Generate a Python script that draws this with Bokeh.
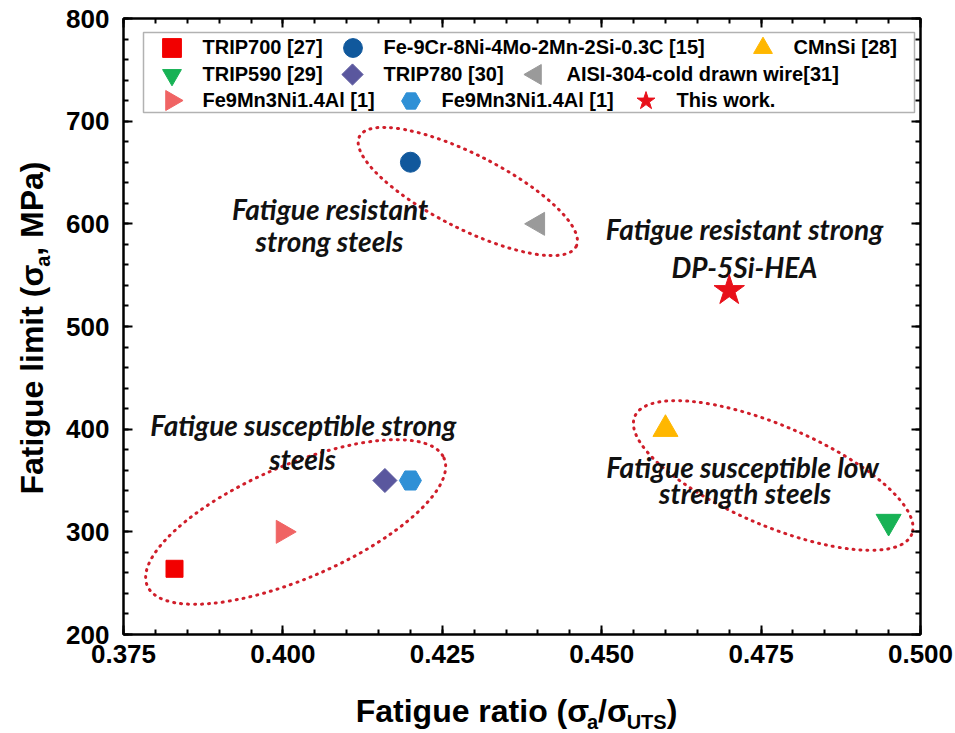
import math
from bokeh.plotting import figure
from bokeh.layouts import row, column
from bokeh.models import (Range1d, LinearAxis, SingleIntervalTicker, PrintfTickFormatter,
                          Legend, LegendItem, BoxAnnotation)
from bokeh.core.properties import value
from bokeh.embed import file_html
from bokeh.resources import INLINE

# ---------------- data ----------------
series_names = ["TRIP700 [27]", "Fe-9Cr-8Ni-4Mo-2Mn-2Si-0.3C [15]", "CMnSi [28]",
                "TRIP590 [29]", "TRIP780 [30]", "AISI-304-cold drawn wire[31]",
                "Fe9Mn3Ni1.4Al [1]", "Fe9Mn3Ni1.4Al [1]", "This work."]
fatigue_ratio = [0.383, 0.420, 0.460, 0.495, 0.416, 0.440, 0.400, 0.420, 0.470]
fatigue_limit = [264, 660, 400, 310, 350, 600, 300, 350, 535]

x_range_vals = [0.375, 0.500]
y_range_vals = [200, 800]

# group annotations (dotted ellipses): centre in data, size in screen px, angle in degrees
group_x = [0.4020, 0.4290, 0.4769]
group_y = [309.6, 631.5, 354.9]
group_w_px = [323, 243, 301]
group_h_px = [113, 74, 100]
group_angle_deg = [23.3, -26.9, -23.1]

note_texts = ["Fatigue resistant", "strong steels",
              "Fatigue resistant strong", "DP-5Si-HEA",
              "Fatigue susceptible strong", "steels",
              "Fatigue susceptible low", "strength steels"]
note_x = [0.4074, 0.4073, 0.4724, 0.4724, 0.4032, 0.4031, 0.4721, 0.4725]
note_y = [614, 583, 594.5, 558.4, 403.6, 371.4, 363.6, 338.3]

# ---------------- styles ----------------
markers = ["square", "circle", "triangle", "inverted_triangle", "square",
           "triangle", "triangle", "hex", "star"]
marker_angles = [0, 0, 0, 0, math.pi / 4, math.pi / 2, -math.pi / 2, 0, 0]
colors = ["#f20000", "#10589c", "#ffb700", "#17b255", "#5a579e",
          "#9a9a9a", "#f06464", "#2f90d6", "#e8101a"]
sizes = [17, 20, 25, 25, 17, 23, 23, 22, 32]
legend_sizes = [18, 19, 20, 20, 15, 20, 20, 20, 24]

# legend layout (canvas px): glyph centre x per item, row centre y
legend_cx = [171, 352, 762, 171, 352, 535, 171, 410, 645]
legend_cy = [47, 47, 47, 74, 74, 74, 100, 100, 100]

W, H = 955, 733
YT_W = 60            # width of the strip holding the y title
XT_TOP = 680         # top of the strip holding the x title
FL, FR, FT, FB = 123, 920, 18, 634

p = figure(width=W - YT_W, height=XT_TOP, output_backend="svg", toolbar_location=None,
           x_range=Range1d(*x_range_vals), y_range=Range1d(*y_range_vals),
           min_border_left=FL - YT_W, min_border_right=W - FR, min_border_top=FT,
           min_border_bottom=XT_TOP - FB)
p.xgrid.visible = False
p.ygrid.visible = False
p.outline_line_color = "black"
p.outline_line_width = 2
p.background_fill_color = "white"
p.border_fill_color = "white"


def px_x(px):
    return x_range_vals[0] + (px - FL) / (FR - FL) * (x_range_vals[1] - x_range_vals[0])


def px_y(py):
    return y_range_vals[1] - (py - FT) / (FB - FT) * (y_range_vals[1] - y_range_vals[0])


def style_axis(ax, show_labels):
    ax.axis_line_width = 2
    ax.major_tick_in = 9
    ax.major_tick_out = 0
    ax.minor_tick_in = 5
    ax.minor_tick_out = 0
    ax.major_tick_line_width = 2
    ax.minor_tick_line_width = 2
    if show_labels:
        ax.major_label_text_font = "Liberation Sans"
        ax.major_label_text_font_style = "bold"
        ax.major_label_text_font_size = "26px"
        ax.major_label_text_color = "black"
    else:
        ax.major_label_text_font_size = "6px"
        ax.major_label_text_color = None
        ax.major_label_standoff = 0


p.xaxis.ticker = SingleIntervalTicker(interval=0.025, num_minor_ticks=5)
p.yaxis.ticker = SingleIntervalTicker(interval=100, num_minor_ticks=5)
p.xaxis.formatter = PrintfTickFormatter(format="%.3f")
style_axis(p.xaxis[0], True)
style_axis(p.yaxis[0], True)
p.xaxis.major_label_standoff = 10
p.yaxis.major_label_standoff = 14

top_ax = LinearAxis(ticker=SingleIntervalTicker(interval=0.025, num_minor_ticks=5))
right_ax = LinearAxis(ticker=SingleIntervalTicker(interval=100, num_minor_ticks=5))
style_axis(top_ax, False)
style_axis(right_ax, False)
p.add_layout(top_ax, "above")
p.add_layout(right_ax, "right")

# dotted ellipses
p.ellipse(x=group_x, y=group_y, width=group_w_px, height=group_h_px,
          angle=[math.radians(a) for a in group_angle_deg],
          width_units="screen", height_units="screen",
          fill_color=None, line_color="#d01e2a", line_width=3,
          line_dash="1 6", line_cap="round")

# notes
p.text(x=note_x, y=note_y, text=note_texts, text_font=value("Lato"),
       text_font_style="bold italic", text_font_size="28px", text_color="#111111",
       text_align="center", text_baseline="middle")

# scatter points
renderers = []
for i in range(len(series_names)):
    r = p.scatter(x=[fatigue_ratio[i]], y=[fatigue_limit[i]], marker=markers[i],
                  angle=marker_angles[i], size=sizes[i], fill_color=colors[i],
                  line_color=colors[i])
    renderers.append(r)

# legend frame
box = BoxAnnotation(left=px_x(143), right=px_x(914), top=px_y(32), bottom=px_y(112),
                    fill_color="white", fill_alpha=1, line_color="black", line_width=1.5)
p.add_layout(box)

GH = 47
for i in range(len(series_names)):
    if marker_angles[i] != 0:
        # legend glyphs are never rotated by Bokeh: invisible proxy + rotated marker drawn here
        proxy = p.scatter(x=[fatigue_ratio[i]], y=[fatigue_limit[i]], marker=markers[i],
                          size=1, fill_alpha=0, line_alpha=0)
        p.scatter(x=[px_x(legend_cx[i])], y=[px_y(legend_cy[i])], marker=markers[i],
                  angle=marker_angles[i], size=legend_sizes[i], fill_color=colors[i],
                  line_color=colors[i], level="overlay")
        item_r = proxy
    else:
        item_r = renderers[i]
    leg = Legend(items=[LegendItem(label=series_names[i], renderers=[item_r])],
                 orientation="horizontal",
                 location=(legend_cx[i] - GH / 2 - FL, (FB - legend_cy[i]) - GH / 2),
                 glyph_width=GH, glyph_height=GH, label_standoff=8, spacing=0,
                 padding=0, margin=0, border_line_color=None, background_fill_alpha=0,
                 label_text_font="Liberation Sans", label_text_font_style="bold",
                 label_text_font_size="20px", label_height=20, label_text_color="black")
    p.add_layout(leg)

# ---------------- axis titles (pieces, for subscripts) ----------------
CW = {'F': 611, 'a': 556, 't': 333, 'i': 278, 'g': 611, 'u': 611, 'e': 556, ' ': 278,
      'r': 389, 'o': 611, '(': 333, ')': 333, 'σ': 615, '/': 278, 'U': 722, 'T': 611,
      'S': 667, 'l': 278, 'm': 889, ',': 278, 'M': 833, 'P': 667}


def tw(s, px):
    return sum(CW.get(c, 556) for c in s) * px / 1000.0


def strip(width, height, xr, yr, bl=0, br=0):
    f = figure(width=width, height=height, output_backend="svg", toolbar_location=None,
               x_range=Range1d(*xr), y_range=Range1d(*yr),
               x_axis_location=None, y_axis_location=None,
               min_border=0, min_border_left=bl, min_border_right=br,
               min_border_top=0, min_border_bottom=0)
    f.grid.visible = False
    f.outline_line_color = None
    f.background_fill_color = "white"
    f.border_fill_color = "white"
    return f


BIG, SMALL, SUB = 32, 20, 6
MID = 0.35  # centre of the text box above the baseline, in em
x_pieces = [("Fatigue ratio (σ", BIG, 0), ("a", SMALL, SUB), ("/σ", BIG, 0),
            ("UTS", SMALL, SUB), (")", BIG, 0)]
y_pieces = [("Fatigue limit (σ", BIG, 0), ("a", SMALL, SUB), (", MPa)", BIG, 0)]

# x title strip: same horizontal borders as the main plot, data = canvas px
xf = strip(W - YT_W, H - XT_TOP, (FL, FR), (H, XT_TOP), bl=FL - YT_W, br=W - FR)
total = sum(tw(s, f) for s, f, _ in x_pieces)
cur = 516 - total / 2
x_base = 722
for s, f, off in x_pieces:
    xf.text(x=[cur], y=[x_base + off - MID * f], text=[s], text_font=value("Liberation Sans"),
            text_font_style="bold", text_font_size=f"{f}px", text_align="left",
            text_baseline="middle", text_color="black")
    cur += tw(s, f)

# y title strip: canvas x 0..YT_W, canvas y 0..H
yf = strip(YT_W, H, (0, YT_W), (H, 0))
total = sum(tw(s, f) for s, f, _ in y_pieces)
cur = 327.5 + total / 2
for s, f, off in y_pieces:
    yf.text(x=[43 + off - MID * f], y=[cur], text=[s], angle=math.pi / 2,
            text_font=value("Liberation Sans"), text_font_style="bold",
            text_font_size=f"{f}px", text_align="left", text_baseline="middle",
            text_color="black")
    cur -= tw(s, f)

layout = row(yf, column(p, xf, spacing=0), spacing=0)
open("out.html", "w").write(file_html(layout, INLINE))
